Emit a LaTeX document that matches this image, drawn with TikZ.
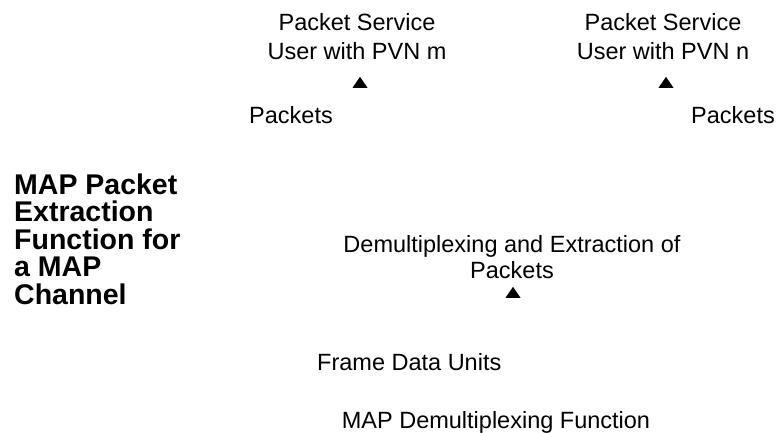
\documentclass[tikz,border=0pt]{standalone}
\usepackage{fontspec}
\setmainfont{Liberation Sans}
\usetikzlibrary{shapes.geometric}

\tikzset{
  label/.style={inner sep=0pt, font=\fontsize{23.5}{25.5}\selectfont},
  title/.style={inner sep=0pt, align=left, font=\fontsize{28.5}{27.5}\selectfont\bfseries},
  arrowhead/.style={isosceles triangle, isosceles triangle stretches, shape border rotate=90,
    minimum height=11pt, minimum width=15pt, inner sep=0pt, fill=black, draw=none}
}

\begin{document}
\begin{tikzpicture}[x=1pt, y=-1pt]
        \useasboundingbox (0,0) rectangle (777,432);

        % Packet service users
        \node[label, anchor=base] (userm1) at (357,30) {Packet Service};
        \node[label, anchor=base] (userm2) at (357,59) {User with PVN m};
        \node[label, anchor=base] (usern1) at (663,30) {Packet Service};
        \node[label, anchor=base] (usern2) at (663,59) {User with PVN n};

        % Arrow tips into the users
        \node[arrowhead, anchor=south] (tipm) at (360,88) {};
        \node[arrowhead, anchor=south] (tipn) at (666,88) {};

        % Packet labels
        \node[label, anchor=base west] (pktm) at (249,123) {Packets};
        \node[label, anchor=base east] (pktn) at (775,123) {Packets};

        % Function title (base is the last line)
        \node[title, anchor=base west] (func) at (14,304) {MAP Packet\\Extraction\\Function for\\a MAP\\Channel};

        % Demultiplexing and extraction
        \node[label, align=center, anchor=base] (demux) at (512,278) {Demultiplexing and Extraction of\\Packets};
        \node[arrowhead, anchor=south] (tipd) at (513,298) {};

        % Frame data units and MAP demultiplexing
        \node[label, anchor=base west] (fdu) at (317,370) {Frame Data Units};
        \node[label, anchor=base] (mapdemux) at (496,428) {MAP Demultiplexing Function};
    \end{tikzpicture}
\end{document}
